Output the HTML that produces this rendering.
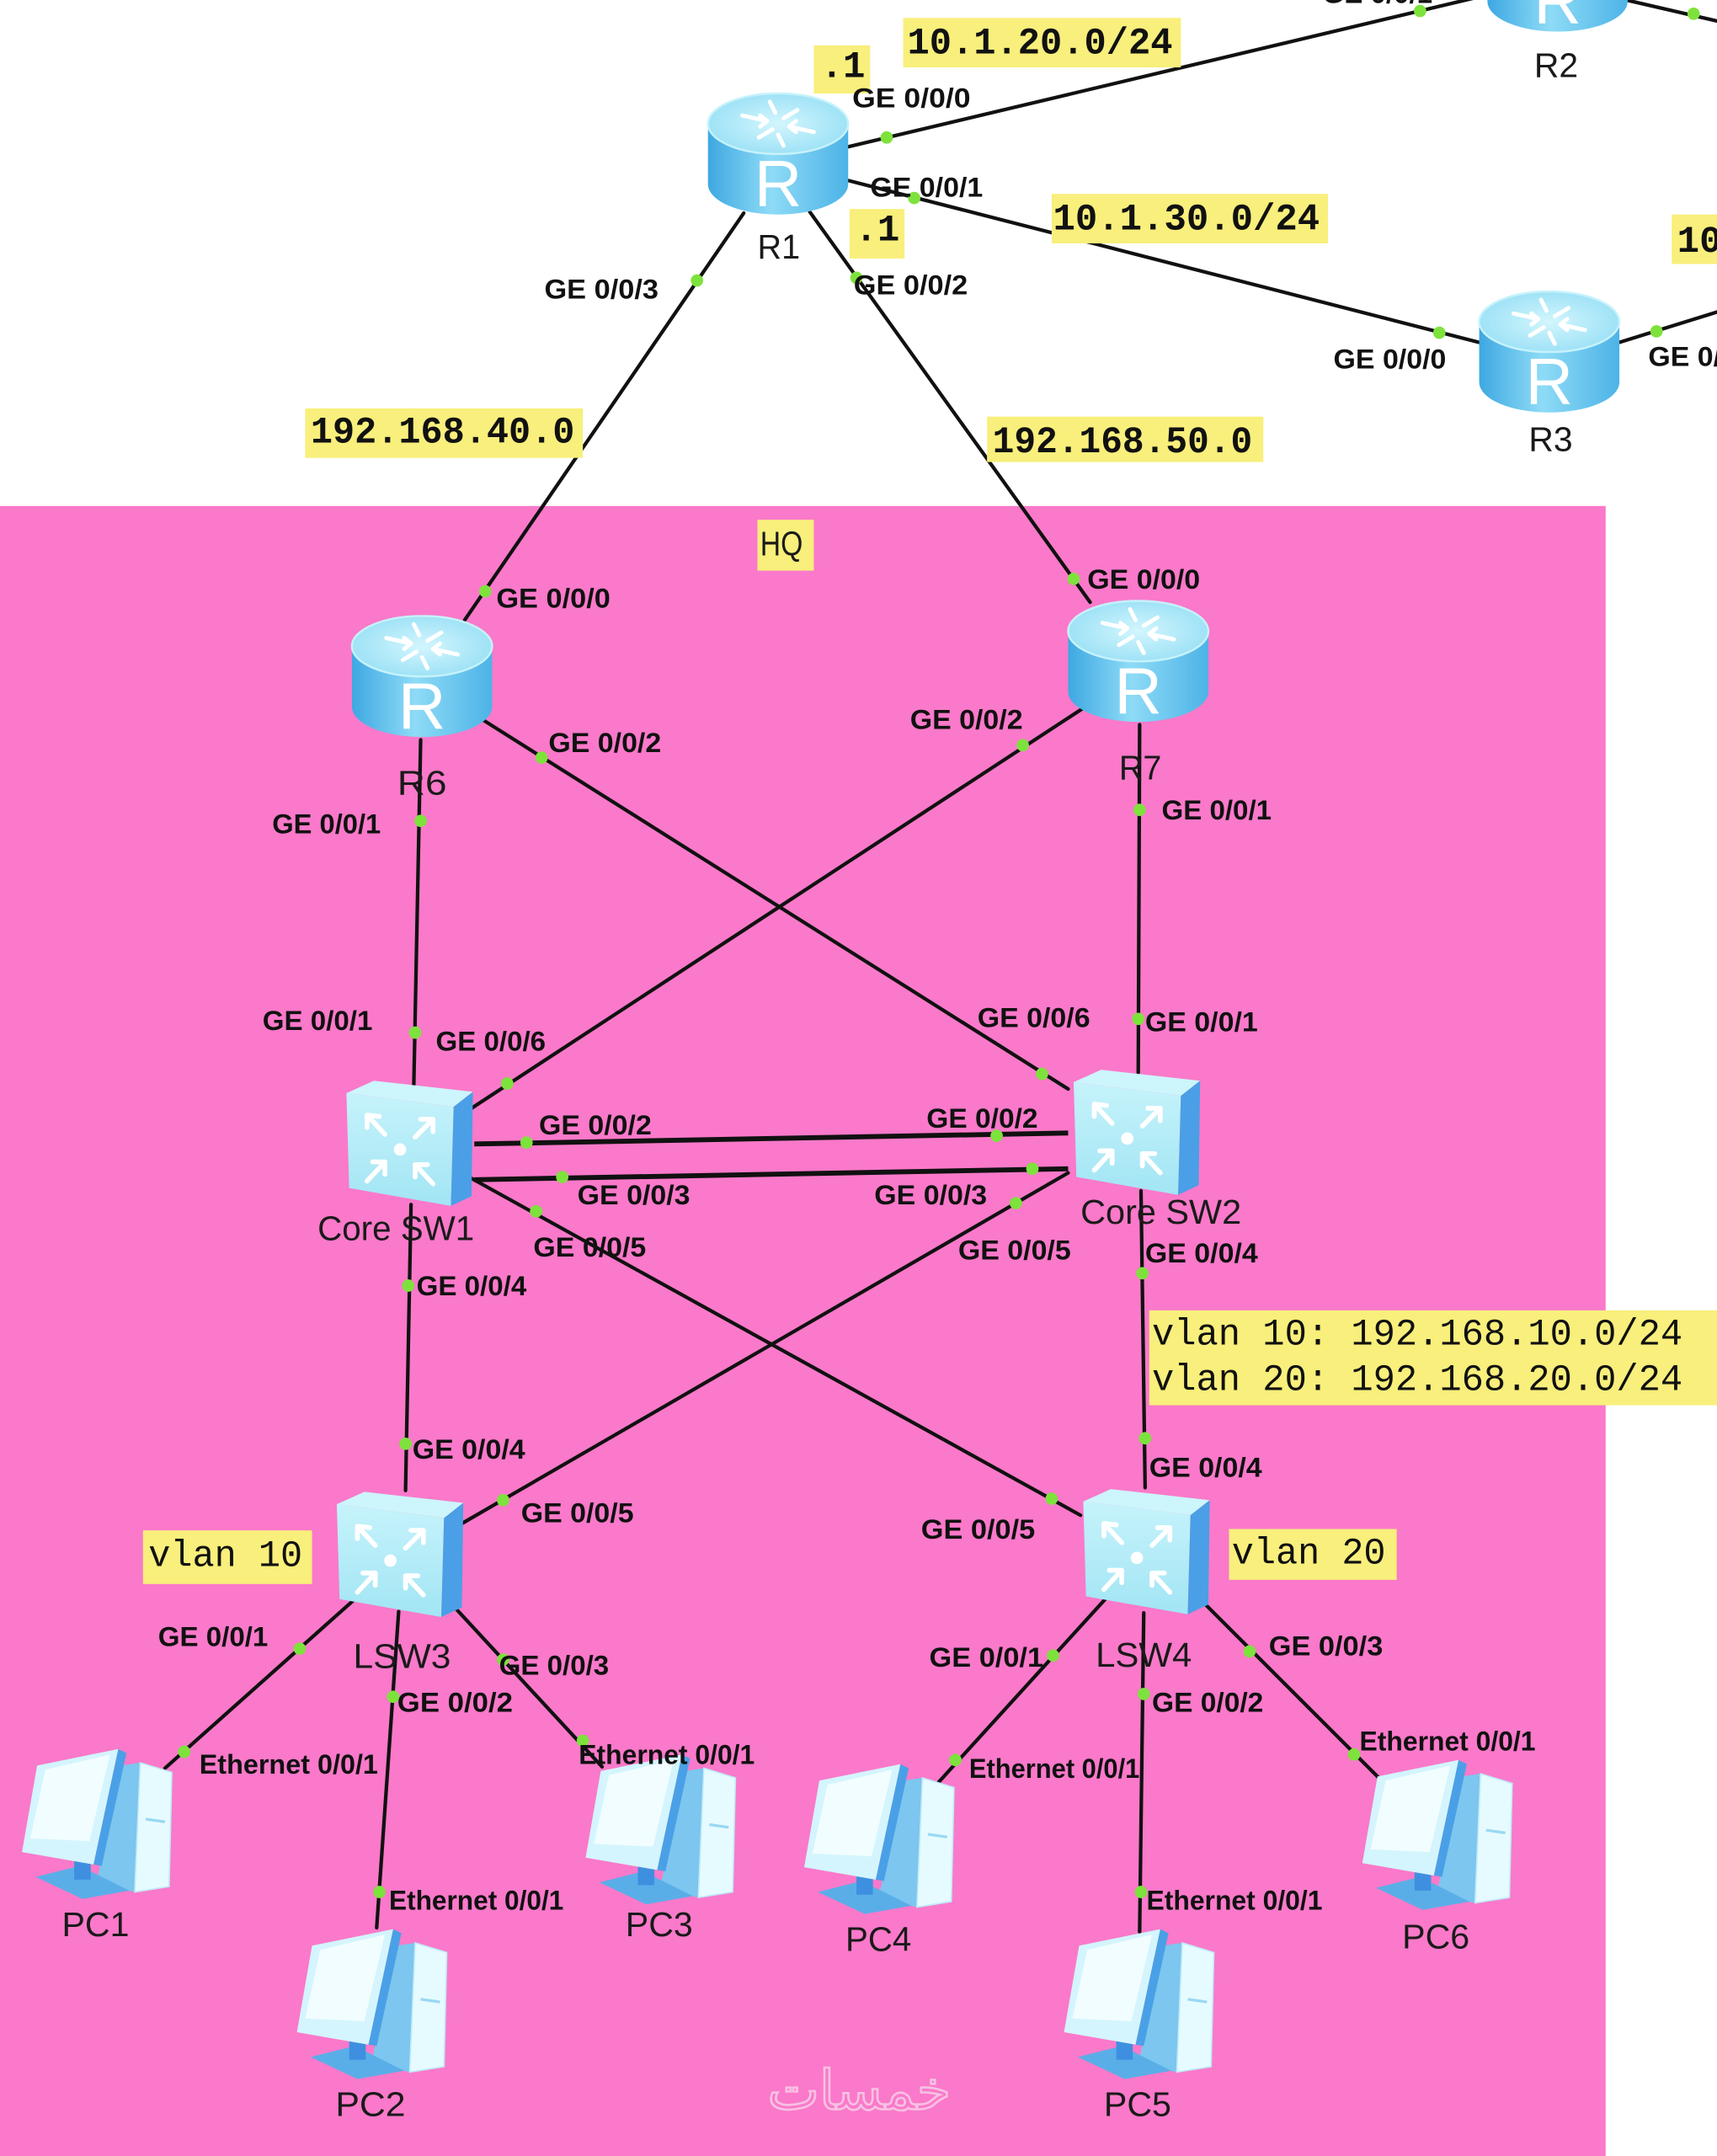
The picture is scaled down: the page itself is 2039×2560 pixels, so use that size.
<!DOCTYPE html>
<html>
<head>
<meta charset="utf-8">
<style>
  html,body{margin:0;padding:0;background:#fff;overflow:hidden;}
  svg{display:block;}
  .ge{font-family:"Liberation Sans",Arial,sans-serif;font-weight:bold;font-size:20px;fill:#111;}
  .dev{font-family:"Liberation Sans",Arial,sans-serif;font-size:25px;fill:#1a1a1a;}
  .mono{font-family:"Liberation Mono","DejaVu Sans Mono",monospace;font-weight:bold;font-size:27px;fill:#111;}
  .monon{font-family:"Liberation Mono","DejaVu Sans Mono",monospace;font-size:27px;fill:#111;}
  .rl{font-family:"Liberation Sans",Arial,sans-serif;font-size:48px;fill:#fff;}
</style>
</head>
<body>
<svg xmlns="http://www.w3.org/2000/svg" width="2039" height="2560" viewBox="0 0 1249 1568" preserveAspectRatio="none">
  <defs>
    <linearGradient id="rb" x1="0" x2="1" y1="0" y2="0">
      <stop offset="0" stop-color="#3ea8e2"/>
      <stop offset="0.45" stop-color="#8edbf6"/>
      <stop offset="1" stop-color="#4db3e7"/>
    </linearGradient>
    <radialGradient id="rt" cx="0.5" cy="0.5" r="0.6">
      <stop offset="0" stop-color="#d2f6fd"/>
      <stop offset="1" stop-color="#95def5"/>
    </radialGradient>
    <linearGradient id="sf" x1="0" x2="0" y1="0" y2="1">
      <stop offset="0" stop-color="#c6f3fb"/>
      <stop offset="1" stop-color="#a2e5f4"/>
    </linearGradient>
    <g id="router">
      <path d="M-51 -22 L-51 22 A51 22 0 0 0 51 22 L51 -22 Z" fill="url(#rb)"/>
      <ellipse cx="0" cy="-22" rx="51" ry="22" fill="url(#rt)" stroke="#c6f2fb" stroke-width="1.5"/>
      <g stroke="#fff" stroke-width="3" fill="none" stroke-linecap="round">
        <path d="M-26 -28 L-8 -24 M-8 -24 l-5 -4 M-8 -24 l-5 4"/>
        <path d="M26 -16 L8 -20 M8 -20 l5 -4 M8 -20 l5 4"/>
        <path d="M-6 -38 L-2 -30 M4 -6 L0 -14"/>
        <path d="M-14 -12 L-4 -18 M14 -32 L4 -26"/>
      </g>
    </g>
    <g id="switch">
      <polygon points="2,10 22,1 94,9 80,20" fill="#cdf5fc"/>
      <polygon points="2,10 80,20 78,92 4,79" fill="url(#sf)"/>
      <polygon points="80,20 94,9 93,85 78,92" fill="#4b9fe6"/>
      <g stroke="#fff" stroke-width="3.5" fill="none" stroke-linecap="round">
        <path d="M30 40 L17 26 M17 26 l0 9 M17 26 l9 1"/>
        <path d="M52 42 L65 29 M65 29 l-9 0 M65 29 l0 9"/>
        <path d="M17 74 L30 60 M30 60 l-9 0 M30 60 l0 9"/>
        <path d="M65 76 L52 62 M52 62 l0 9 M52 62 l9 0"/>
      </g>
      <circle cx="41" cy="51" r="4.5" fill="#fff"/>
    </g>
    <g id="pc">
      <polygon points="74,13 88,11 84,105 56,99" fill="#7cc6ef"/>
      <polygon points="88,11 111,18 109,101 84,105" fill="#e6fbff" stroke="#bfeaf7" stroke-width="1"/>
      <path d="M92 52 L106 54" stroke="#9ad8f2" stroke-width="2"/>
      <polygon points="12,94 44,86 80,104 46,110" fill="#5aaee8"/>
      <polygon points="40,78 52,78 52,96 40,96" fill="#3f8fe0"/>
      <polygon points="72,1 78,4 60,86 54,85" fill="#4aa0e6"/>
      <polygon points="13,13 72,1 54,85 2,76" fill="#d4f5fd"/>
      <polygon points="19,16 66,5 51,68 8,66" fill="#f2fdff"/>
    </g>
  </defs>

  <!-- background -->
  <rect x="0" y="0" width="1249" height="1568" fill="#ffffff"/>
  <rect x="0" y="368" width="1168" height="1200" fill="#fa79ca"/>

  <!-- connectors -->
  <g stroke="#111" stroke-width="2.6" fill="none" stroke-linecap="round">
    <line x1="616" y1="107" x2="1100" y2="-8"/>
    <line x1="1183" y1="0" x2="1252" y2="16"/>
    <line x1="616" y1="131" x2="1076" y2="249"/>
    <line x1="1178" y1="249" x2="1252" y2="226"/>
    <line x1="541" y1="155" x2="338" y2="451"/>
    <line x1="589" y1="154" x2="793" y2="438"/>
    <line x1="306" y1="538" x2="301" y2="790"/>
    <line x1="352" y1="524" x2="777" y2="792"/>
    <line x1="788" y1="515" x2="343" y2="806"/>
    <line x1="829" y1="527" x2="828" y2="780"/>
    <line x1="343" y1="857" x2="786" y2="1102"/>
    <line x1="777" y1="853" x2="336" y2="1108"/>
    <line x1="299" y1="876" x2="295" y2="1084"/>
    <line x1="830" y1="866" x2="833" y2="1082"/>
    <line x1="257" y1="1164" x2="120" y2="1286"/>
    <line x1="290" y1="1172" x2="274" y2="1402"/>
    <line x1="328" y1="1166" x2="438" y2="1285"/>
    <line x1="804" y1="1163" x2="682" y2="1297"/>
    <line x1="832" y1="1173" x2="829" y2="1405"/>
    <line x1="873" y1="1163" x2="1006" y2="1296"/>
  </g>
  <g stroke="#111" stroke-width="3.6" fill="none">
    <line x1="345" y1="832" x2="777" y2="824"/>
    <line x1="345" y1="858" x2="777" y2="850"/>
  </g>

  <!-- port dots -->
  <g fill="#7ee23c">
    <circle cx="645" cy="100" r="4.5"/><circle cx="1033" cy="8" r="4.5"/>
    <circle cx="1232" cy="10" r="4.5"/>
    <circle cx="665" cy="144" r="4.5"/><circle cx="1047" cy="242" r="4.5"/>
    <circle cx="1205" cy="241" r="4.5"/>
    <circle cx="507" cy="204" r="4.5"/><circle cx="353" cy="430" r="4.5"/>
    <circle cx="623" cy="202" r="4.5"/><circle cx="781" cy="421" r="4.5"/>
    <circle cx="306" cy="597" r="4.5"/><circle cx="302" cy="751" r="4.5"/>
    <circle cx="394" cy="551" r="4.5"/><circle cx="758" cy="781" r="4.5"/>
    <circle cx="744" cy="542" r="4.5"/><circle cx="369" cy="788" r="4.5"/>
    <circle cx="829" cy="589" r="4.5"/><circle cx="828" cy="741" r="4.5"/>
    <circle cx="383" cy="831" r="4.5"/><circle cx="725" cy="826" r="4.5"/>
    <circle cx="409" cy="856" r="4.5"/><circle cx="751" cy="850" r="4.5"/>
    <circle cx="390" cy="881" r="4.5"/><circle cx="765" cy="1090" r="4.5"/>
    <circle cx="739" cy="875" r="4.5"/><circle cx="366" cy="1091" r="4.5"/>
    <circle cx="297" cy="935" r="4.5"/><circle cx="295" cy="1050" r="4.5"/>
    <circle cx="831" cy="926" r="4.5"/><circle cx="833" cy="1046" r="4.5"/>
    <circle cx="218" cy="1199" r="4.5"/><circle cx="134" cy="1274" r="4.5"/>
    <circle cx="286" cy="1234" r="4.5"/><circle cx="276" cy="1376" r="4.5"/>
    <circle cx="366" cy="1207" r="4.5"/><circle cx="424" cy="1266" r="4.5"/>
    <circle cx="766" cy="1204" r="4.5"/><circle cx="695" cy="1280" r="4.5"/>
    <circle cx="832" cy="1232" r="4.5"/><circle cx="830" cy="1376" r="4.5"/>
    <circle cx="909" cy="1201" r="4.5"/><circle cx="985" cy="1276" r="4.5"/>
  </g>

  <!-- routers -->
  <use href="#router" x="566" y="112"/>
  <text class="rl" x="566" y="150" text-anchor="middle">R</text>
  <use href="#router" x="1133" y="-21"/>
  <text class="rl" x="1133" y="17" text-anchor="middle">R</text>
  <use href="#router" x="1127" y="256"/>
  <text class="rl" x="1127" y="294" text-anchor="middle">R</text>
  <use href="#router" x="307" y="492"/>
  <text class="rl" x="307" y="530" text-anchor="middle">R</text>
  <use href="#router" x="828" y="481"/>
  <text class="rl" x="828" y="519" text-anchor="middle">R</text>

  <!-- switches -->
  <use href="#switch" x="250" y="785"/>
  <use href="#switch" x="779" y="777"/>
  <use href="#switch" x="243" y="1084"/>
  <use href="#switch" x="786" y="1082"/>

  <!-- PCs -->
  <use href="#pc" x="14" y="1271"/>
  <use href="#pc" x="214" y="1402"/>
  <use href="#pc" x="424" y="1275"/>
  <use href="#pc" x="583" y="1282"/>
  <use href="#pc" x="772" y="1402"/>
  <use href="#pc" x="989" y="1279"/>

  <!-- yellow label boxes -->
  <g fill="#f8ef7c">
    <rect x="657" y="13" width="202" height="36"/>
    <rect x="592" y="33" width="41" height="35"/>
    <rect x="765" y="141" width="201" height="36"/>
    <rect x="618" y="152" width="40" height="36"/>
    <rect x="1216" y="156" width="40" height="36"/>
    <rect x="222" y="297" width="202" height="36"/>
    <rect x="718" y="303" width="201" height="33"/>
    <rect x="551" y="378" width="41" height="37"/>
    <rect x="836" y="953" width="420" height="69"/>
    <rect x="104" y="1113" width="123" height="39"/>
    <rect x="894" y="1112" width="122" height="37"/>
  </g>

  <!-- monospace labels -->
  <text class="mono" x="660" y="39" textLength="193" lengthAdjust="spacingAndGlyphs">10.1.20.0/24</text>
  <text class="mono" x="597" y="56">.1</text>
  <text class="mono" x="766" y="167" textLength="194" lengthAdjust="spacingAndGlyphs">10.1.30.0/24</text>
  <text class="mono" x="622" y="175">.1</text>
  <text class="mono" x="1220" y="183">10.1.40.0/24</text>
  <text class="mono" x="226" y="322" textLength="192" lengthAdjust="spacingAndGlyphs">192.168.40.0</text>
  <text class="mono" x="722" y="329" textLength="189" lengthAdjust="spacingAndGlyphs">192.168.50.0</text>
  <text class="monon" x="838" y="978" textLength="386" lengthAdjust="spacingAndGlyphs">vlan 10: 192.168.10.0/24</text>
  <text class="monon" x="838" y="1011" textLength="386" lengthAdjust="spacingAndGlyphs">vlan 20: 192.168.20.0/24</text>
  <text class="monon" x="108" y="1139" textLength="112" lengthAdjust="spacingAndGlyphs">vlan 10</text>
  <text class="monon" x="896" y="1137" textLength="112" lengthAdjust="spacingAndGlyphs">vlan 20</text>
  <text class="dev" x="553" y="404" textLength="31" lengthAdjust="spacingAndGlyphs">HQ</text>

  <!-- port labels -->
  <g class="ge">
    <text x="962" y="2" textLength="80" lengthAdjust="spacingAndGlyphs">GE 0/0/1</text>
    <text x="620" y="78" textLength="86" lengthAdjust="spacingAndGlyphs">GE 0/0/0</text>
    <text x="633" y="143" textLength="82" lengthAdjust="spacingAndGlyphs">GE 0/0/1</text>
    <text x="621" y="214" textLength="83" lengthAdjust="spacingAndGlyphs">GE 0/0/2</text>
    <text x="396" y="217" textLength="83" lengthAdjust="spacingAndGlyphs">GE 0/0/3</text>
    <text x="970" y="268" textLength="82" lengthAdjust="spacingAndGlyphs">GE 0/0/0</text>
    <text x="1199" y="266" textLength="82" lengthAdjust="spacingAndGlyphs">GE 0/0/1</text>
    <text x="361" y="442" textLength="83" lengthAdjust="spacingAndGlyphs">GE 0/0/0</text>
    <text x="791" y="428" textLength="82" lengthAdjust="spacingAndGlyphs">GE 0/0/0</text>
    <text x="399" y="547" textLength="82" lengthAdjust="spacingAndGlyphs">GE 0/0/2</text>
    <text x="662" y="530" textLength="82" lengthAdjust="spacingAndGlyphs">GE 0/0/2</text>
    <text x="198" y="606" textLength="79" lengthAdjust="spacingAndGlyphs">GE 0/0/1</text>
    <text x="845" y="596" textLength="80" lengthAdjust="spacingAndGlyphs">GE 0/0/1</text>
    <text x="191" y="749" textLength="80" lengthAdjust="spacingAndGlyphs">GE 0/0/1</text>
    <text x="317" y="764" textLength="80" lengthAdjust="spacingAndGlyphs">GE 0/0/6</text>
    <text x="711" y="747" textLength="82" lengthAdjust="spacingAndGlyphs">GE 0/0/6</text>
    <text x="833" y="750" textLength="82" lengthAdjust="spacingAndGlyphs">GE 0/0/1</text>
    <text x="392" y="825" textLength="82" lengthAdjust="spacingAndGlyphs">GE 0/0/2</text>
    <text x="674" y="820" textLength="81" lengthAdjust="spacingAndGlyphs">GE 0/0/2</text>
    <text x="420" y="876" textLength="82" lengthAdjust="spacingAndGlyphs">GE 0/0/3</text>
    <text x="636" y="876" textLength="82" lengthAdjust="spacingAndGlyphs">GE 0/0/3</text>
    <text x="388" y="914" textLength="82" lengthAdjust="spacingAndGlyphs">GE 0/0/5</text>
    <text x="697" y="916" textLength="82" lengthAdjust="spacingAndGlyphs">GE 0/0/5</text>
    <text x="303" y="942" textLength="80" lengthAdjust="spacingAndGlyphs">GE 0/0/4</text>
    <text x="833" y="918" textLength="82" lengthAdjust="spacingAndGlyphs">GE 0/0/4</text>
    <text x="300" y="1061" textLength="82" lengthAdjust="spacingAndGlyphs">GE 0/0/4</text>
    <text x="836" y="1074" textLength="82" lengthAdjust="spacingAndGlyphs">GE 0/0/4</text>
    <text x="379" y="1107" textLength="82" lengthAdjust="spacingAndGlyphs">GE 0/0/5</text>
    <text x="670" y="1119" textLength="83" lengthAdjust="spacingAndGlyphs">GE 0/0/5</text>
    <text x="115" y="1197" textLength="80" lengthAdjust="spacingAndGlyphs">GE 0/0/1</text>
    <text x="363" y="1218" textLength="80" lengthAdjust="spacingAndGlyphs">GE 0/0/3</text>
    <text x="289" y="1245" textLength="84" lengthAdjust="spacingAndGlyphs">GE 0/0/2</text>
    <text x="676" y="1212" textLength="83" lengthAdjust="spacingAndGlyphs">GE 0/0/1</text>
    <text x="923" y="1204" textLength="83" lengthAdjust="spacingAndGlyphs">GE 0/0/3</text>
    <text x="838" y="1245" textLength="81" lengthAdjust="spacingAndGlyphs">GE 0/0/2</text>
    <text x="145" y="1290" textLength="130" lengthAdjust="spacingAndGlyphs">Ethernet 0/0/1</text>
    <text x="421" y="1283" textLength="128" lengthAdjust="spacingAndGlyphs">Ethernet 0/0/1</text>
    <text x="705" y="1293" textLength="124" lengthAdjust="spacingAndGlyphs">Ethernet 0/0/1</text>
    <text x="989" y="1273" textLength="128" lengthAdjust="spacingAndGlyphs">Ethernet 0/0/1</text>
    <text x="283" y="1389" textLength="127" lengthAdjust="spacingAndGlyphs">Ethernet 0/0/1</text>
    <text x="834" y="1389" textLength="128" lengthAdjust="spacingAndGlyphs">Ethernet 0/0/1</text>
  </g>

  <!-- device labels -->
  <g class="dev">
    <text x="551" y="188" textLength="31" lengthAdjust="spacingAndGlyphs">R1</text>
    <text x="1116" y="56" textLength="32" lengthAdjust="spacingAndGlyphs">R2</text>
    <text x="1112" y="328" textLength="32" lengthAdjust="spacingAndGlyphs">R3</text>
    <text x="289" y="578" textLength="36" lengthAdjust="spacingAndGlyphs">R6</text>
    <text x="814" y="567" textLength="31" lengthAdjust="spacingAndGlyphs">R7</text>
    <text x="231" y="902" textLength="114" lengthAdjust="spacingAndGlyphs">Core SW1</text>
    <text x="786" y="890" textLength="117" lengthAdjust="spacingAndGlyphs">Core SW2</text>
    <text x="257" y="1213" textLength="71" lengthAdjust="spacingAndGlyphs">LSW3</text>
    <text x="797" y="1212" textLength="70" lengthAdjust="spacingAndGlyphs">LSW4</text>
    <text x="45" y="1408" textLength="49" lengthAdjust="spacingAndGlyphs">PC1</text>
    <text x="244" y="1539" textLength="51" lengthAdjust="spacingAndGlyphs">PC2</text>
    <text x="455" y="1408" textLength="49" lengthAdjust="spacingAndGlyphs">PC3</text>
    <text x="615" y="1419" textLength="48" lengthAdjust="spacingAndGlyphs">PC4</text>
    <text x="803" y="1539" textLength="49" lengthAdjust="spacingAndGlyphs">PC5</text>
    <text x="1020" y="1417" textLength="49" lengthAdjust="spacingAndGlyphs">PC6</text>
  </g>

  <!-- watermark -->
  <text x="625" y="1534" text-anchor="middle" font-family="'DejaVu Sans', sans-serif" font-size="40" fill="none" stroke="#f7d3ea" stroke-width="1.6" opacity="0.8">خمسات</text>
</svg>
</body>
</html>
